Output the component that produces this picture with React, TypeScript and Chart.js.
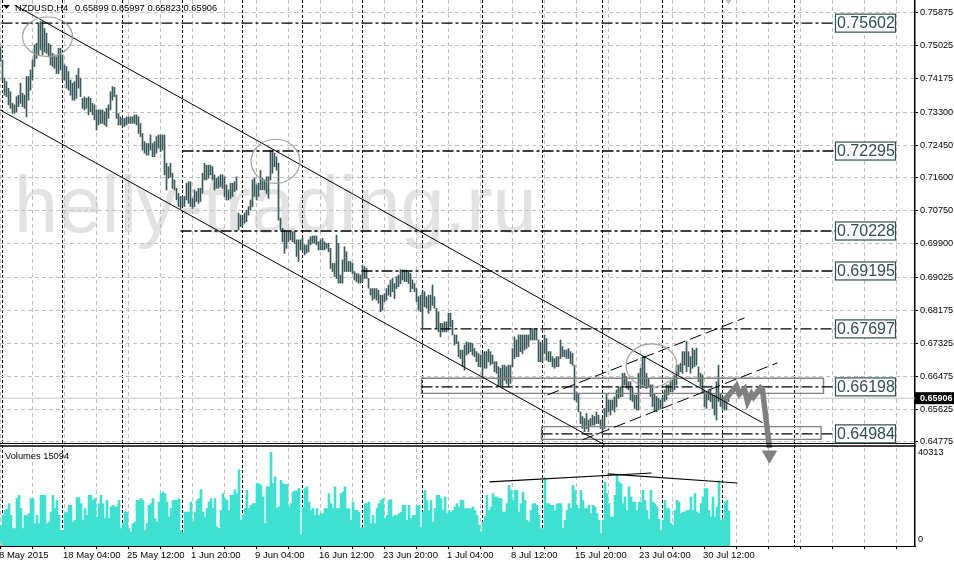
import { useEffect, useRef } from "react";
import { Chart, registerables } from "chart.js";

Chart.register(...registerables);

// H4 highs and lows in pips (0.7499 -> 7499), ten bars a row
const highPips = [
  7499, 7465, 7418, 7409, 7392, 7383, 7353, 7349, 7370, 7374,
  7405, 7379, 7374, 7422, 7422, 7439, 7465, 7504, 7508, 7560,
  7564, 7564, 7547, 7534, 7508, 7504, 7482, 7478, 7473, 7495,
  7495, 7478, 7452, 7448, 7435, 7413, 7405, 7409, 7426, 7443,
  7418, 7366, 7370, 7366, 7370, 7366, 7353, 7349, 7336, 7336,
  7336, 7336, 7331, 7340, 7349, 7383, 7396, 7394, 7374, 7327,
  7318, 7314, 7314, 7318, 7318, 7318, 7318, 7323, 7323, 7318,
  7301, 7275, 7254, 7249, 7249, 7271, 7249, 7254, 7267, 7271,
  7271, 7271, 7271, 7198, 7189, 7198, 7172, 7155, 7133, 7120,
  7112, 7112, 7112, 7146, 7150, 7150, 7107, 7129, 7125, 7133,
  7133, 7172, 7198, 7193, 7193, 7193, 7189, 7168, 7159, 7163,
  7168, 7168, 7163, 7142, 7129, 7146, 7146, 7150, 7163, 7069,
  7064, 7060, 7069, 7077, 7086, 7103, 7155, 7159, 7142, 7146,
  7180, 7159, 7155, 7163, 7163, 7232, 7232, 7224, 7215, 7198,
  7056, 7030, 7025, 7021, 7021, 7021, 7021, 7021, 7000, 7000,
  7000, 7004, 6987, 6987, 7000, 7008, 7010, 7010, 7010, 6995,
  7000, 7004, 6995, 6991, 6991, 6978, 6939, 6939, 7012, 6991,
  6909, 6948, 6982, 6969, 6944, 6944, 6939, 6918, 6913, 6912,
  6909, 6935, 6931, 6926, 6900, 6874, 6874, 6874, 6874, 6870,
  6857, 6857, 6861, 6874, 6883, 6896, 6900, 6887, 6905, 6909,
  6923, 6922, 6922, 6922, 6917, 6913, 6896, 6887, 6874, 6853,
  6857, 6866, 6866, 6853, 6857, 6857, 6883, 6853, 6823, 6814,
  6784, 6784, 6788, 6788, 6810, 6810, 6792, 6754, 6754, 6736,
  6715, 6715, 6728, 6736, 6734, 6734, 6732, 6719, 6711, 6706,
  6702, 6706, 6711, 6711, 6717, 6711, 6702, 6685, 6685, 6672,
  6668, 6676, 6676, 6672, 6676, 6676, 6719, 6749, 6741, 6754,
  6754, 6754, 6754, 6754, 6754, 6771, 6771, 6771, 6771, 6741,
  6736, 6732, 6754, 6745, 6711, 6711, 6698, 6693, 6698, 6698,
  6741, 6724, 6715, 6715, 6719, 6711, 6706, 6676, 6607, 6603,
  6555, 6543, 6538, 6551, 6534, 6538, 6547, 6543, 6555, 6547,
  6534, 6538, 6564, 6603, 6586, 6586, 6586, 6594, 6612, 6620,
  6620, 6655, 6655, 6646, 6633, 6633, 6620, 6599, 6599, 6655,
  6668, 6698, 6698, 6655, 6642, 6625, 6625, 6603, 6595, 6590,
  6586, 6595, 6612, 6625, 6625, 6633, 6638, 6651, 6676, 6676,
  6681, 6711, 6711, 6737, 6711, 6698, 6720, 6715, 6720, 6672,
  6655, 6651, 6612, 6607, 6612, 6612, 6599, 6599, 6633, 6676,
  6603, 6595, 6590, 6590, 6600,
];

const lowPips = [
  7461, 7413, 7374, 7370, 7349, 7340, 7327, 7327, 7331, 7344,
  7353, 7344, 7340, 7318, 7361, 7387, 7413, 7448, 7469, 7478,
  7491, 7478, 7486, 7482, 7473, 7452, 7448, 7443, 7430, 7430,
  7439, 7413, 7413, 7392, 7387, 7374, 7361, 7361, 7366, 7392,
  7370, 7340, 7336, 7340, 7323, 7331, 7323, 7310, 7284, 7297,
  7301, 7301, 7297, 7293, 7314, 7336, 7361, 7370, 7314, 7297,
  7297, 7293, 7293, 7297, 7301, 7301, 7301, 7301, 7297, 7275,
  7267, 7232, 7224, 7219, 7219, 7232, 7215, 7215, 7224, 7237,
  7228, 7232, 7168, 7129, 7159, 7163, 7133, 7129, 7103, 7086,
  7081, 7086, 7086, 7103, 7094, 7086, 7081, 7086, 7099, 7094,
  7099, 7120, 7155, 7155, 7159, 7168, 7155, 7129, 7133, 7133,
  7137, 7133, 7112, 7103, 7103, 7107, 7112, 7125, 7129, 7025,
  7034, 7034, 7043, 7047, 7064, 7077, 7086, 7112, 7103, 7112,
  7129, 7129, 7129, 7120, 7107, 7155, 7172, 7189, 7180, 7051,
  7025, 6995, 6965, 6978, 6995, 7000, 6995, 6991, 6957, 6944,
  6974, 6974, 6961, 6965, 6969, 6987, 6991, 6991, 6987, 6974,
  6974, 6974, 6974, 6978, 6969, 6926, 6918, 6905, 6900, 6888,
  6888, 6888, 6918, 6918, 6918, 6918, 6913, 6896, 6892, 6888,
  6888, 6892, 6900, 6900, 6875, 6857, 6844, 6848, 6844, 6836,
  6814, 6818, 6840, 6844, 6857, 6853, 6866, 6848, 6874, 6879,
  6887, 6896, 6892, 6892, 6887, 6866, 6874, 6866, 6840, 6818,
  6814, 6775, 6827, 6823, 6810, 6818, 6831, 6823, 6771, 6762,
  6749, 6762, 6762, 6762, 6767, 6775, 6754, 6728, 6732, 6698,
  6693, 6672, 6663, 6702, 6706, 6711, 6702, 6698, 6685, 6672,
  6672, 6646, 6668, 6668, 6685, 6676, 6680, 6659, 6655, 6620,
  6620, 6620, 6637, 6629, 6620, 6629, 6672, 6693, 6698, 6698,
  6711, 6706, 6715, 6719, 6724, 6741, 6741, 6741, 6741, 6685,
  6685, 6685, 6706, 6689, 6685, 6685, 6672, 6668, 6672, 6672,
  6693, 6698, 6698, 6693, 6693, 6680, 6676, 6586, 6581, 6555,
  6525, 6512, 6504, 6512, 6504, 6517, 6521, 6521, 6525, 6525,
  6512, 6504, 6512, 6543, 6555, 6547, 6560, 6555, 6568, 6590,
  6594, 6595, 6625, 6616, 6612, 6586, 6582, 6564, 6560, 6560,
  6616, 6625, 6620, 6616, 6620, 6595, 6569, 6556, 6556, 6560,
  6564, 6569, 6582, 6586, 6599, 6607, 6607, 6612, 6625, 6651,
  6659, 6655, 6676, 6659, 6672, 6655, 6668, 6672, 6676, 6633,
  6620, 6607, 6569, 6564, 6586, 6582, 6564, 6547, 6534, 6582,
  6569, 6564, 6560, 6560, 6582,
];

const volumes = [
  8900, 13200, 15300, 15800, 18200, 13200, 7500, 7500, 20400, 21800,
  16100, 7500, 13200, 13200, 13900, 20400, 20400, 9600, 13200, 9600,
  21800, 21800, 21800, 9600, 10300, 14600, 21800, 16100, 19600, 13200,
  6700, 6700, 14200, 14600, 17500, 17500, 10300, 11000, 20800, 20800,
  18200, 11000, 16100, 13200, 21800, 21800, 19600, 20400, 12500, 18200,
  21800, 18200, 11800, 19600, 11800, 16800, 17500, 16800, 16800, 19600,
  7500, 9600, 14600, 14600, 7500, 6000, 9600, 10300, 19600, 19600,
  20400, 19600, 6700, 9600, 17500, 18200, 20400, 11800, 10300, 18900,
  22500, 23200, 22500, 18900, 12500, 16100, 19600, 19600, 19600, 20400,
  6700, 5600, 14600, 14600, 14600, 18900, 10300, 14600, 19600, 20400,
  24200, 14600, 12500, 16100, 18900, 20400, 16100, 20400, 8200, 7500,
  15300, 22500, 20400, 19600, 15300, 21800, 21800, 24200, 22500, 32800,
  11000, 13200, 16100, 23900, 16100, 17500, 18200, 18200, 26800, 26800,
  26100, 21100, 9600, 25400, 25400, 40313, 26800, 29700, 16100, 16800,
  28200, 26800, 26500, 26500, 16800, 18200, 23200, 23700, 23700, 24700,
  5000, 16800, 24700, 25400, 18900, 15300, 16100, 13200, 16100, 13200,
  13900, 13900, 16100, 16100, 22500, 18200, 16100, 25400, 16100, 16100,
  22500, 23200, 25400, 16100, 16100, 11000, 18900, 15300, 15300, 14600,
  7900, 7900, 18200, 18200, 18900, 9600, 13200, 9600, 16100, 18200,
  19600, 20400, 11800, 13200, 19600, 19900, 12500, 13200, 13200, 13900,
  14600, 17500, 17500, 11000, 17500, 11800, 13200, 13200, 17500, 17500,
  7900, 14600, 23900, 19600, 15300, 19600, 10300, 16100, 21800, 21800,
  20400, 15300, 21100, 13900, 15300, 14600, 15300, 16800, 18200, 16800,
  19600, 19600, 16100, 16100, 16100, 16100, 16800, 15300, 13200, 8900,
  6000, 10300, 12500, 21800, 15300, 16800, 22500, 21100, 21100, 20400,
  20400, 14600, 14600, 18200, 26100, 23900, 19600, 23900, 23900, 14600,
  18200, 23200, 19600, 11000, 10300, 15300, 18200, 18200, 17500, 13200,
  7500, 7500, 29000, 18200, 18200, 17500, 17500, 15300, 18200, 18200,
  18200, 7500, 11000, 15300, 18200, 16100, 26100, 23900, 17500, 16100,
  23900, 19600, 16100, 16100, 17500, 13900, 17500, 16800, 13900, 11000,
  5300, 11000, 27500, 22500, 18200, 12500, 12500, 21800, 30400, 27500,
  26800, 18200, 21100, 15300, 25400, 21100, 18900, 18900, 15300, 18900,
  18900, 23900, 19600, 15300, 11500, 23900, 18900, 18200, 16800, 11500,
  6700, 11000, 19600, 16100, 16100, 9600, 8900, 15300, 19600, 18900,
  13900, 14600, 14600, 15300, 15300, 21100, 15300, 22500, 14600, 13900,
  18200, 21100, 24700, 24700, 15300, 12500, 21100, 12500, 16800, 28000,
  11000, 11800, 18900, 19600, 15094,
];

const priceTicks = [
  0.75875, 0.75025, 0.74175, 0.733, 0.7245, 0.716, 0.7075, 0.699, 0.69025, 0.68175, 0.67325, 0.66475,
  0.65625, 0.64775,
];
const lastPrice = 0.65906;
const headerSymbol = "NZDUSD,H4";
const headerQuote = "0.65899 0.65997 0.65823 0.65906";
const volumeTitle = "Volumes 15094";
const watermark = "helly-trading.ru";

// one label per 32 bars, a grid line per 16
const timeLabels = [
  "8 May 2015",
  "18 May 04:00",
  "25 May 12:00",
  "1 Jun 20:00",
  "9 Jun 04:00",
  "16 Jun 12:00",
  "23 Jun 20:00",
  "1 Jul 04:00",
  "8 Jul 12:00",
  "15 Jul 20:00",
  "23 Jul 04:00",
  "30 Jul 12:00",
];
const weekSeparators = [1, 31, 61, 91, 121, 151, 181, 211, 241, 271, 301, 331, 361, 397];

// [level, first bar of the line]
const levels = [
  [0.75602, 0.5],
  [0.72295, 91],
  [0.70228, 90],
  [0.69195, 180.5],
  [0.67697, 210],
  [0.66198, 210.5],
  [0.64984, 270.5],
];
const labelBar = 417.5;
const labelEndBar = 447.5;

const channelLines = [
  [7, 0.7607, 381, 0.6527],
  [-0.25, 0.7336, 302, 0.647],
];
const risingLines = [
  [273.5, 0.6599, 372, 0.6798],
  [291, 0.6483, 388.5, 0.6682],
];
const zones = [
  [210.5, 411.5, 0.6642, 0.6603],
  [270.5, 410.3, 0.6517, 0.6484],
];
// centre bar, centre price, then the two radii in bars and price
const circles = [
  [23.5, 0.7525, 12.5, 0.0051],
  [137.5, 0.7203, 12.2, 0.0057],
  [325.5, 0.6675, 12.7, 0.0056],
];
const arrowBars = [362, 368, 369.5, 372, 373.5, 375.5, 376.5, 380, 381, 384.5];
const arrowPrices = [0.6586, 0.66222, 0.66015, 0.66144, 0.65808, 0.66015, 0.65937, 0.6617, 0.66119, 0.64619];
const volumeTrends = [
  [244.5, 27600, 325.5, 31400],
  [303.5, 31000, 368.5, 27100],
];

const FONT = '"Liberation Sans", Arial, sans-serif';
const SLATE = "#2f4f4f";

const annotations = {
  id: "annotations",
  beforeDraw(chart: any) {
    const { ctx } = chart;
    ctx.save();
    ctx.fillStyle = "#e2e2e2";
    ctx.font = `79px ${FONT}`;
    ctx.fillText(watermark, 14, 232);
    ctx.restore();
  },
  afterDatasetsDraw(chart: any) {
    const { ctx, scales } = chart;
    const { x, y, yVol } = scales;
    ctx.save();

    // circles around the swing points
    ctx.strokeStyle = "#a0a0a0";
    ctx.lineWidth = 1.2;
    for (const [bar, price, rx, ry] of circles) {
      ctx.beginPath();
      ctx.ellipse(
        x.getPixelForValue(bar),
        y.getPixelForValue(price),
        x.getPixelForValue(bar + rx) - x.getPixelForValue(bar),
        y.getPixelForValue(price - ry) - y.getPixelForValue(price),
        0,
        0,
        Math.PI * 2,
      );
      ctx.stroke();
    }

    // pane divider
    ctx.strokeStyle = "#000";
    ctx.lineWidth = 1;
    ctx.beginPath();
    ctx.moveTo(0, yVol.top - 2.5);
    ctx.lineTo(x.right, yVol.top - 2.5);
    ctx.stroke();
    ctx.lineWidth = 1.5;
    ctx.beginPath();
    ctx.moveTo(0, yVol.top);
    ctx.lineTo(x.right, yVol.top);
    ctx.stroke();

    // level labels
    ctx.font = `16px ${FONT}`;
    ctx.textBaseline = "middle";
    for (const [level] of levels) {
      const left = x.getPixelForValue(labelBar);
      const right = x.getPixelForValue(labelEndBar);
      const mid = y.getPixelForValue(level);
      ctx.fillStyle = "#fff";
      ctx.fillRect(left, mid - 9, right - left, 18);
      ctx.strokeStyle = SLATE;
      ctx.lineWidth = 1.2;
      ctx.strokeRect(left, mid - 9, right - left, 18);
      ctx.fillStyle = SLATE;
      ctx.fillText(level.toFixed(5), left + 1.5, mid + 0.5);
    }

    // last price tag on the axis
    const lastY = y.getPixelForValue(lastPrice);
    ctx.fillStyle = "#000";
    ctx.fillRect(x.right, lastY - 6, 39, 12);
    ctx.fillStyle = "#fff";
    ctx.font = `bold 9px ${FONT}`;
    ctx.fillText(lastPrice.toFixed(5), x.right + 5, lastY + 0.5);

    // header texts
    ctx.fillStyle = "#000";
    ctx.font = `9.3px ${FONT}`;
    ctx.fillText(headerSymbol, 15, 8);
    ctx.fillText(headerQuote, 75, 8);
    ctx.fillText(volumeTitle, 5, 456);
    ctx.beginPath();
    ctx.moveTo(3, 5);
    ctx.lineTo(10, 5);
    ctx.lineTo(6.5, 9);
    ctx.closePath();
    ctx.fill();

    // chart shift marker in the bottom corner
    ctx.fillStyle = "#c0c0c0";
    ctx.beginPath();
    ctx.moveTo(0, x.top - 5);
    ctx.lineTo(3.5, x.top);
    ctx.lineTo(0, x.top);
    ctx.closePath();
    ctx.fill();
    ctx.restore();
  },
};

function segment(from: number[], color: string, yAxisID = "y", dash: number[] = [], width = 1) {
  return {
    type: "line",
    data: [
      { x: from[0], y: from[1] },
      { x: from[2], y: from[3] },
    ],
    borderColor: color,
    borderWidth: width,
    borderDash: dash,
    pointRadius: 0,
    yAxisID,
    xAxisID: "x",
    order: 1,
  };
}

// tick labels overhang the pane in MetaTrader, so no scale may ask for layout room
function noOverhang(scale: any) {
  scale.paddingLeft = 0;
  scale.paddingRight = 0;
  scale.paddingTop = 0;
  scale.paddingBottom = 0;
}

export default function App() {
  const chartRef = useRef<HTMLCanvasElement>(null);

  useEffect(() => {
    if (!chartRef.current) return;

    const ctx = chartRef.current.getContext("2d");
    if (!ctx) return;

    const fixedWidth = (scale: any) => {
      scale.width = 39;
      noOverhang(scale);
    };

    const chart = new Chart(ctx, {
      type: "bar",
      data: {
        datasets: [
          {
            type: "line",
            data: [
              { x: -0.25, y: lastPrice },
              { x: 457.25, y: lastPrice },
            ],
            borderColor: "#c0c0c0",
            borderWidth: 1,
            pointRadius: 0,
            order: 5,
          },
          {
            type: "bar",
            data: highPips.map((high, i) => ({ x: i, y: [lowPips[i] / 10000, high / 10000] })),
            backgroundColor: "#3a5858",
            barThickness: 1,
            grouped: false,
            order: 4,
          },
          {
            type: "bar",
            // shifted a quarter bar so the 2px columns land on whole pixels
            data: volumes.map((volume, i) => ({ x: i + 0.25, y: volume })),
            backgroundColor: "#40e0d0",
            barThickness: 2,
            grouped: false,
            yAxisID: "yVol",
            order: 4,
          },
          ...levels.map(([level, start]) =>
            segment([start, level, labelBar, level], "#000", "y", [11, 3, 3, 3], 1.4),
          ),
          ...channelLines.map((line) => segment(line, "#000")),
          ...risingLines.map((line) => segment(line, "#000", "y", [12, 5])),
          ...volumeTrends.map((line) => segment(line, "#000", "yVol", [], 1.2)),
          ...zones.map(([from, to, top, bottom]) => ({
            type: "line",
            data: [
              { x: from, y: top },
              { x: to, y: top },
              { x: to, y: bottom },
              { x: from, y: bottom },
              { x: from, y: top },
            ],
            borderColor: "#808080",
            borderWidth: 1.4,
            pointRadius: 0,
            order: 2,
          })),
          {
            type: "line",
            data: arrowBars.map((bar, i) => ({ x: bar, y: arrowPrices[i] })),
            borderColor: "#808080",
            borderWidth: 5.5,
            pointRadius: 0,
            clip: false,
            order: 0,
          },
          {
            type: "line",
            data: [{ x: 384.5, y: 0.64438 }],
            pointStyle: "triangle",
            pointRotation: 180,
            pointRadius: 8,
            backgroundColor: "#808080",
            borderColor: "#808080",
            clip: false,
            order: 0,
          },
          {
            type: "line",
            data: [{ x: 364, y: 0.76226 }],
            pointStyle: "triangle",
            pointRotation: 180,
            pointRadius: 5,
            backgroundColor: "#c0c0c0",
            borderColor: "#c0c0c0",
            clip: false,
            order: 0,
          },
        ] as any,
      },
      options: {
        responsive: false,
        animation: false,
        devicePixelRatio: 1,
        events: [],
        layout: { padding: 0, autoPadding: false },
        plugins: {
          legend: { display: false },
          tooltip: { enabled: false },
        },
        scales: {
          x: {
            type: "linear",
            position: "bottom",
            offset: false,
            min: -0.25,
            max: 457.25,
            afterBuildTicks: (scale: any) => {
              const ticks = [];
              for (let bar = 0; bar <= 448; bar += 16) ticks.push({ value: bar });
              scale.ticks = ticks;
            },
            afterFit: (scale: any) => {
              scale.height = 19;
              noOverhang(scale);
            },
            grid: { offset: false, color: "#c0c0c0", tickColor: "#000", tickLength: 3 },
            border: { color: "#000", width: 1, dash: [4, 3] },
            ticks: {
              autoSkip: false,
              maxRotation: 0,
              align: "start",
              padding: 1,
              labelOffset: -1.5,
              color: "#000",
              font: { family: FONT, size: 9.5 },
              callback: (value: any) => timeLabels[value / 32] ?? "",
            },
          },
          xWeek: {
            type: "linear",
            position: "bottom",
            offset: false,
            min: -0.25,
            max: 457.25,
            afterBuildTicks: (scale: any) => {
              scale.ticks = weekSeparators.map((value) => ({ value }));
            },
            afterFit: (scale: any) => {
              scale.height = 0;
              noOverhang(scale);
            },
            grid: { offset: false, color: "#000", drawTicks: false },
            border: { display: false, dash: [3, 2] },
            ticks: { display: false },
          },
          y: {
            type: "linear",
            position: "right",
            stack: "panes",
            stackWeight: 446,
            min: 0.6467,
            max: 0.762,
            afterBuildTicks: (scale: any) => {
              scale.ticks = priceTicks.map((value) => ({ value }));
            },
            afterFit: fixedWidth,
            grid: { color: "#c0c0c0", tickColor: "#000", tickLength: 3 },
            border: { color: "#000", width: 1.5, dash: [4, 3] },
            ticks: {
              autoSkip: false,
              padding: 2,
              color: "#000",
              font: { family: FONT, size: 9.2 },
              callback: (value: any) => Number(value).toFixed(5),
            },
          },
          yVol: {
            type: "linear",
            position: "right",
            stack: "panes",
            stackWeight: 100,
            min: 0,
            max: 43000,
            afterBuildTicks: (scale: any) => {
              // MetaTrader lifts the "0" label a few pixels off the axis
              scale.ticks = [{ value: 3000 }, { value: 40313 }];
            },
            afterFit: fixedWidth,
            grid: { display: false, drawTicks: false },
            border: { color: "#000", width: 1.5 },
            ticks: {
              autoSkip: false,
              padding: 3,
              color: "#000",
              font: { family: FONT, size: 9.2 },
              callback: (value: any) => (value === 40313 ? "40313" : "0"),
            },
          },
        },
      } as any,
      plugins: [annotations],
    });

    return () => chart.destroy();
  }, []);

  return (
    <div style={{ position: "fixed", left: 0, top: 0, width: 954, height: 565, background: "#fff" }}>
      <canvas ref={chartRef} width={954} height={565} style={{ display: "block" }} />
    </div>
  );
}
